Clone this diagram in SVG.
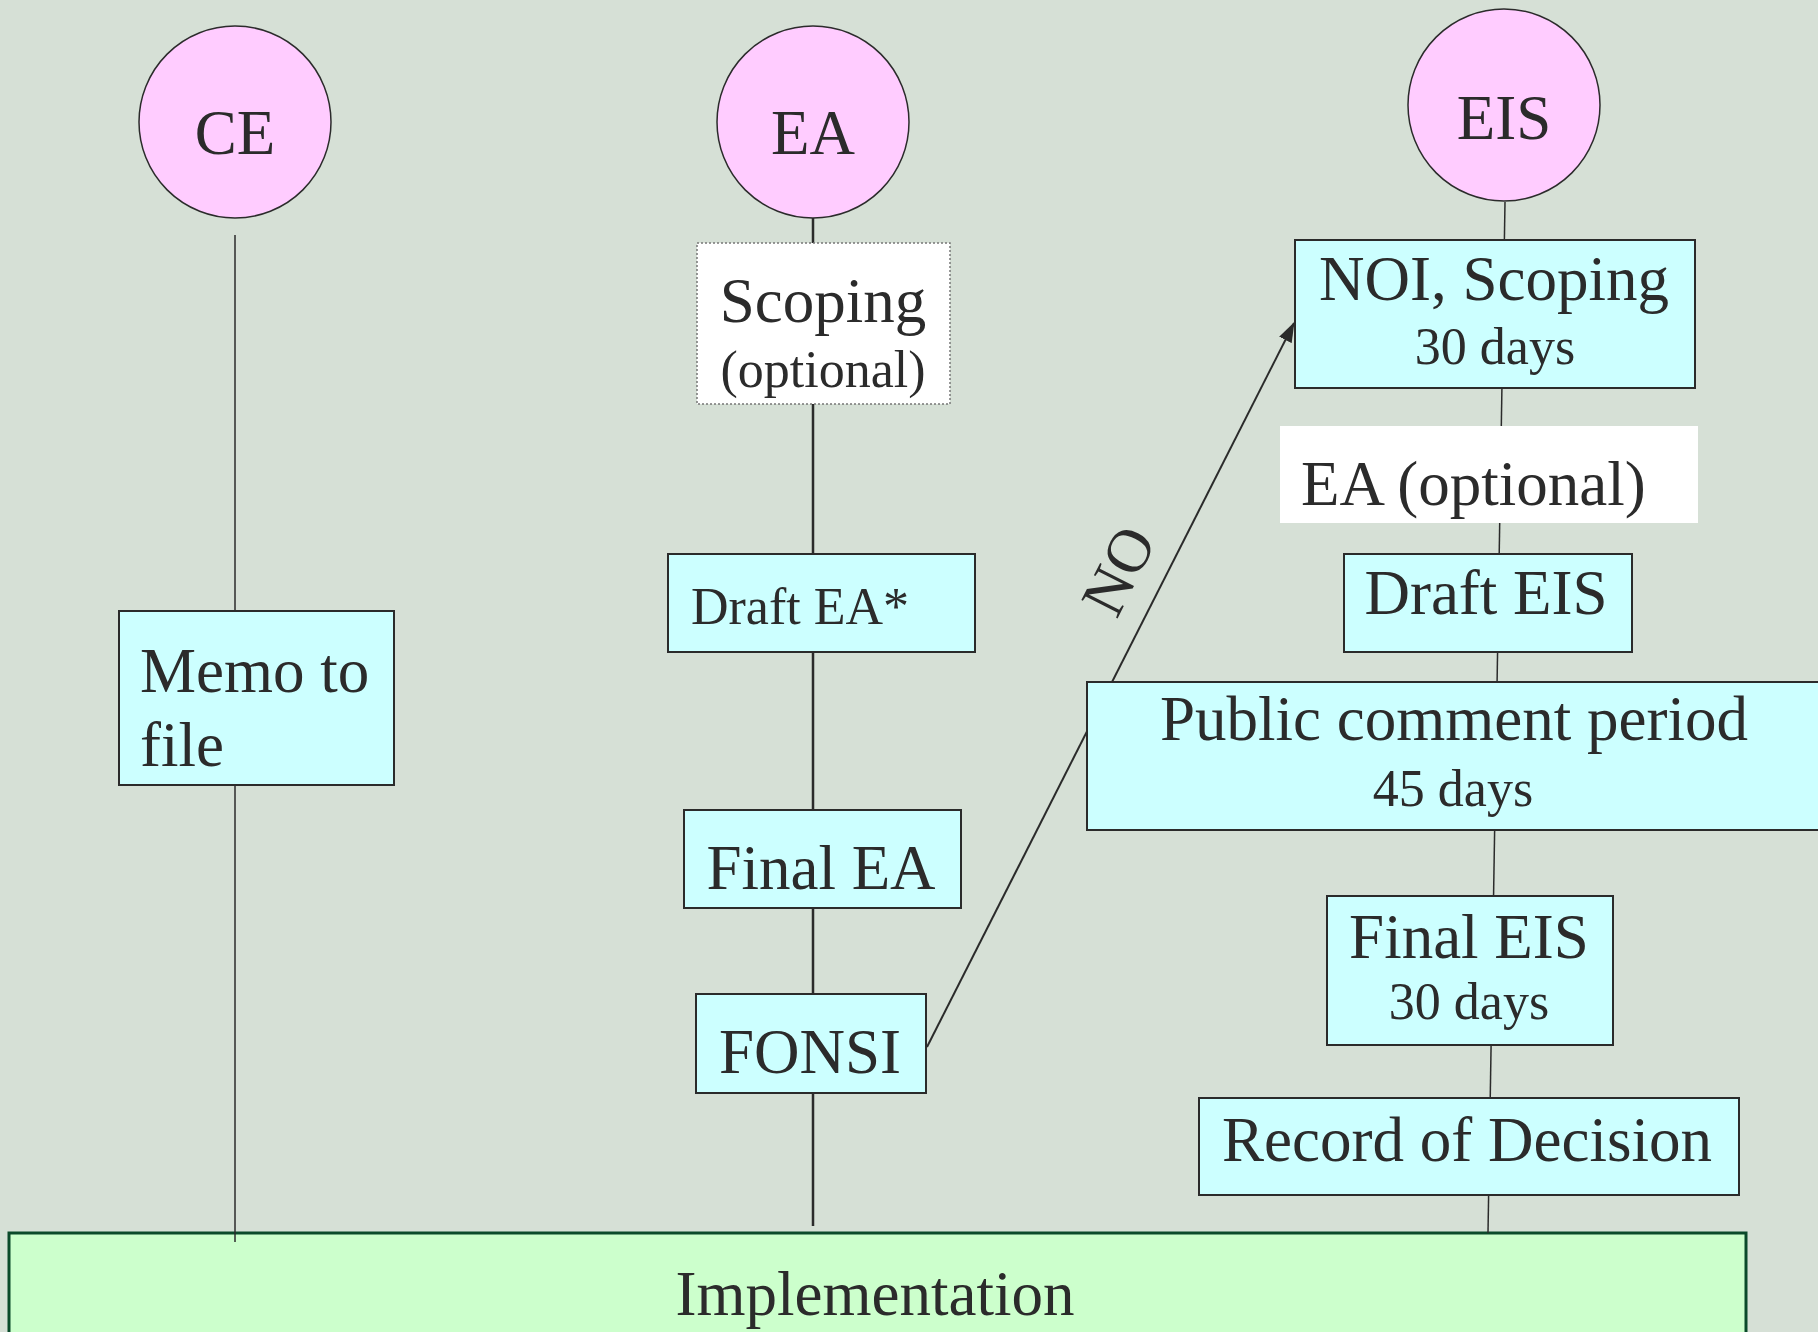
<svg xmlns="http://www.w3.org/2000/svg" width="1818" height="1332" viewBox="0 0 1818 1332">
<defs>
<style>
.t{font-family:"Liberation Serif","Times New Roman",serif;fill:#2b2b2b;font-size:63px}
.s{font-size:52px}
.m{text-anchor:middle}
.circ{fill:#FFCCFF;stroke:#2b2b2b;stroke-width:1.5}
.box{fill:#CCFFFF;stroke:#2b2b2b;stroke-width:2}
.ln{stroke:#2b2b2b;fill:none}
</style>
<marker id="ah" markerWidth="20" markerHeight="14" refX="19" refY="7" orient="auto" markerUnits="userSpaceOnUse">
<path d="M0,0 L20,7 L0,14 z" fill="#2b2b2b"/>
</marker>
</defs>
<rect x="0" y="0" width="1818" height="1332" fill="#D6E0D6"/>
<g id="impl"><rect x="9" y="1233" width="1737" height="140" fill="#CCFFCC" stroke="#0A4A2A" stroke-width="3"/><text class="t m" x="875" y="1315">Implementation</text></g>
<g id="connectors">
<line class="ln" x1="235" y1="235" x2="235" y2="1242" stroke-width="1.5"/>
<line class="ln" x1="813" y1="218" x2="813" y2="1226" stroke-width="2.5"/>
<line class="ln" x1="1505" y1="202" x2="1488" y2="1233" stroke-width="1.5"/>
<line class="ln" x1="927" y1="1047" x2="1294" y2="323" stroke-width="2" marker-end="url(#ah)"/>
<text class="t m" transform="translate(1137,580) rotate(-63.1)" style="font-size:62px">NO</text>
</g>
<g id="ce"><circle class="circ" cx="235" cy="122" r="96"/><text class="t m" x="235" y="154">CE</text></g>
<g id="ea"><circle class="circ" cx="813" cy="122" r="96"/><text class="t m" x="813" y="154">EA</text></g>
<g id="eis"><circle class="circ" cx="1504" cy="105" r="96"/><text class="t m" x="1504" y="139">EIS</text></g>
<g id="memo"><rect class="box" x="119" y="611" width="275" height="174"/><text class="t" x="140" y="692">Memo to</text><text class="t" x="140" y="766">file</text></g>
<g id="scoping"><rect x="697" y="243" width="253" height="161" fill="#FFFFFF" stroke="#777" stroke-width="1.5" stroke-dasharray="2,2"/><text class="t m" x="823" y="322">Scoping</text><text class="t s m" x="823" y="387">(optional)</text></g>
<g id="draftea"><rect class="box" x="668" y="554" width="307" height="98"/><text class="t s m" x="800" y="624">Draft EA*</text></g>
<g id="finalea"><rect class="box" x="684" y="810" width="277" height="98"/><text class="t m" x="821" y="889">Final EA</text></g>
<g id="fonsi"><rect class="box" x="696" y="994" width="230" height="99"/><text class="t m" x="810" y="1073">FONSI</text></g>
<g id="noi"><rect class="box" x="1295" y="240" width="400" height="148"/><text class="t m" x="1494" y="300">NOI, Scoping</text><text class="t s m" x="1495" y="364">30 days</text></g>
<g id="eaopt"><rect x="1280" y="426" width="418" height="97" fill="#FFFFFF"/><text class="t" x="1301" y="505">EA (optional)</text></g>
<g id="drafteis"><rect class="box" x="1344" y="554" width="288" height="98"/><text class="t m" x="1486" y="614">Draft EIS</text></g>
<g id="public"><rect class="box" x="1087" y="682" width="760" height="148"/><text class="t m" x="1454" y="740">Public comment period</text><text class="t s m" x="1453" y="806">45 days</text></g>
<g id="finaleis"><rect class="box" x="1327" y="896" width="286" height="149"/><text class="t m" x="1469" y="958">Final EIS</text><text class="t s m" x="1469" y="1019">30 days</text></g>
<g id="rod"><rect class="box" x="1199" y="1098" width="540" height="97"/><text class="t m" x="1467" y="1161">Record of Decision</text></g>
</svg>
